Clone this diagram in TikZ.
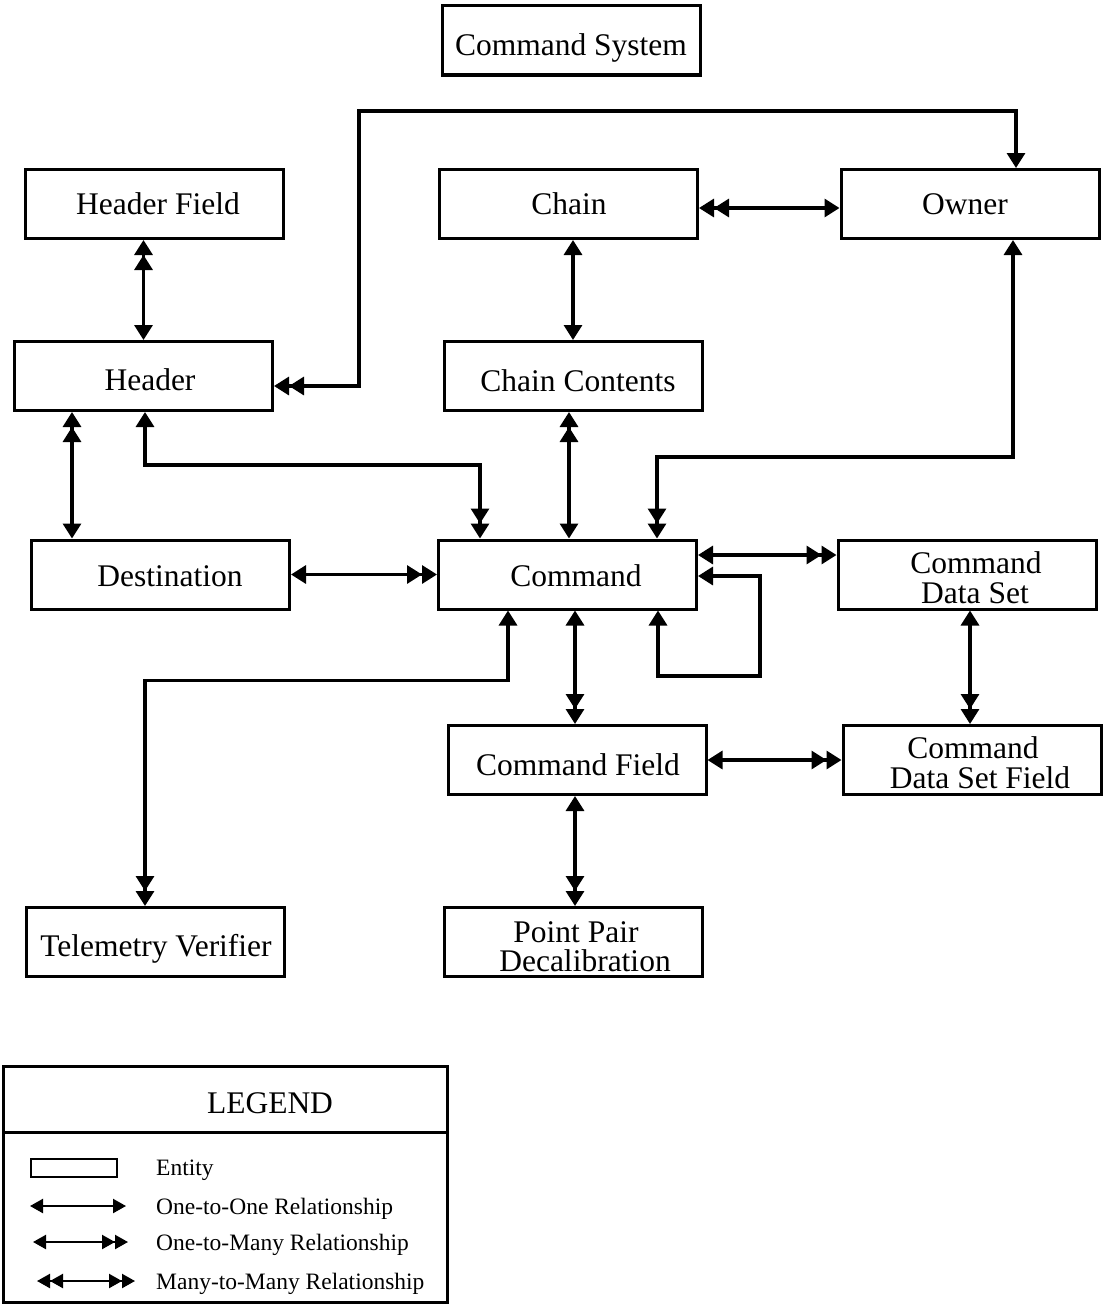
\documentclass[tikz,border=0pt]{standalone}
\usepackage{fontspec}
\setmainfont{Liberation Serif}
\usetikzlibrary{arrows.meta}
\begin{document}
\begin{tikzpicture}[x=1pt,y=-1pt,
  ent/.style={draw,line width=3pt,minimum width=258pt,minimum height=69pt,inner sep=0pt},
  etx/.style={anchor=base,font=\fontsize{31.5}{31.5}\selectfont,inner sep=0pt},
  ltx/.style={anchor=base west,font=\fontsize{23.5}{23.5}\selectfont,inner sep=0pt},
  conn/.style={line width=3.2pt},
  lconn/.style={line width=2.2pt},
  onehead/.tip={Triangle[length=15pt,width=18pt]},
  twohead/.tip={Triangle[length=15pt,width=18pt,sep=0pt]Triangle[length=15pt,width=18pt]},
  lone/.tip={Triangle[length=13pt,width=14pt]},
  ltwo/.tip={Triangle[length=13pt,width=14pt,sep=0pt]Triangle[length=13pt,width=14pt]},
]
\useasboundingbox (0,0) rectangle (1103,1306);

% entity boxes
\node[ent] (cs) at (571,40.5) {};
\node[ent] (hf) at (154,204) {};
\node[ent] (ch) at (568.5,204) {};
\node[ent] (ow) at (970,204) {};
\node[ent] (hd) at (143.5,376) {};
\node[ent] (cc) at (573,376) {};
\node[ent] (de) at (160.5,574.5) {};
\node[ent] (cm) at (567.5,574.5) {};
\node[ent] (ds) at (967,574.5) {};
\node[ent] (cf) at (577,760) {};
\node[ent] (df) at (972,760) {};
\node[ent] (tv) at (155.5,942) {};
\node[ent] (pp) at (573.5,942) {};

% texts
\node[etx] (t-cs) at (571,55.5) {Command System};
\node[etx] (t-hf) at (158,214.5) {Header Field};
\node[etx] (t-ch) at (569,214.5) {Chain};
\node[etx] (t-ow) at (965,214.5) {Owner};
\node[etx] (t-hd) at (150,390.5) {Header};
\node[etx] (t-cc) at (578,391.5) {Chain Contents};
\node[etx] (t-de) at (170,586.5) {Destination};
\node[etx] (t-cm) at (576,586.5) {Command};
\node[etx] (t-ds1) at (976,573) {Command};
\node[etx] (t-ds2) at (975,603.5) {Data Set};
\node[etx] (t-cf) at (578,775.5) {Command Field};
\node[etx] (t-df1) at (973,758) {Command};
\node[etx] (t-df2) at (980,788) {Data Set Field};
\node[etx] (t-tv) at (156,956.5) {Telemetry Verifier};
\node[etx] (t-pp1) at (576,942) {Point Pair};
\node[etx] (t-pp2) at (585,971) {Decalibration};

% helper corner points
\coordinate (lp1) at (359,111);
\coordinate (lp2) at (760,676);

% connectors
\draw[conn,twohead-onehead] (hf.south -| hd) -- (hd.north);
\draw[conn,twohead-onehead] ([yshift=-4pt]ch.east) -- ([yshift=-4pt]ow.west);
\draw[conn,twohead-onehead] ([yshift=-10pt]hd.east) -| (lp1) -| ([xshift=46pt]ow.north);
\draw[conn,onehead-onehead] (ch.south -| cc) -- (cc.north);
\draw[conn,twohead-onehead] ([xshift=-71.5pt]hd.south) -- ([xshift=-71.5pt]hd.south |- de.north);
\draw[conn,onehead-twohead] ([xshift=1.5pt]hd.south) -- ++(0,53) -| ([xshift=-87.5pt]cm.north);
\draw[conn,twohead-onehead] ([xshift=-4pt]cc.south) -- ([xshift=-4pt]cc.south |- cm.north);
\draw[conn,onehead-twohead] ([xshift=43pt]ow.south) -- ++(0,217) -| ([xshift=89.5pt]cm.north);
\draw[conn,onehead-twohead] (de.east) -- (cm.west);
\draw[conn,onehead-twohead] ([yshift=19.5pt]cm.east) -- ([yshift=19.5pt]ds.west);
\draw[conn,onehead-onehead] ([yshift=-1.5pt]cm.east) -| (lp2) -| ([xshift=90.5pt]cm.south);
\draw[conn,onehead-twohead] ([xshift=-59.5pt]cm.south) -- ++(0,70) -| ([xshift=-10.5pt]tv.north);
\draw[conn,onehead-twohead] ([xshift=7.5pt]cm.south) -- ([xshift=7.5pt]cm.south |- cf.north);
\draw[conn,onehead-twohead] ([xshift=3pt]ds.south) -- ([xshift=3pt]ds.south |- df.north);
\draw[conn,onehead-twohead] (cf.east) -- (cf.east -| df.west);
\draw[conn,onehead-twohead] ([xshift=-2pt]cf.south) -- ([xshift=-2pt]cf.south |- pp.north);

% legend
\node[draw,line width=3pt,minimum width=444pt,minimum height=236pt,inner sep=0pt] (leg) at (225.5,1184.5) {};
\coordinate (dv) at (0,1132);
\draw[line width=3pt] (leg.west |- dv) -- (leg.east |- dv);
\node[etx] (t-leg) at (270,1113.5) {LEGEND};
\node[draw,line width=2.8pt,minimum width=86pt,minimum height=18pt,inner sep=0pt] (lent) at (74,1168) {};
\coordinate (l1a) at (30,1206);
\coordinate (l1b) at (126,1206);
\coordinate (l2a) at (33,1242);
\coordinate (l2b) at (128,1242);
\coordinate (l3a) at (37,1281);
\coordinate (l3b) at (135,1281);
\draw[lconn,lone-lone] (l1a) -- (l1b);
\draw[lconn,lone-ltwo] (l2a) -- (l2b);
\draw[lconn,ltwo-ltwo] (l3a) -- (l3b);
\node[ltx] (t-l0) at (156,1175) {Entity};
\node[ltx] (t-l1) at (156,1214) {One-to-One Relationship};
\node[ltx] (t-l2) at (156,1250) {One-to-Many Relationship};
\node[ltx] (t-l3) at (156,1289) {Many-to-Many Relationship};
\end{tikzpicture}
\end{document}
